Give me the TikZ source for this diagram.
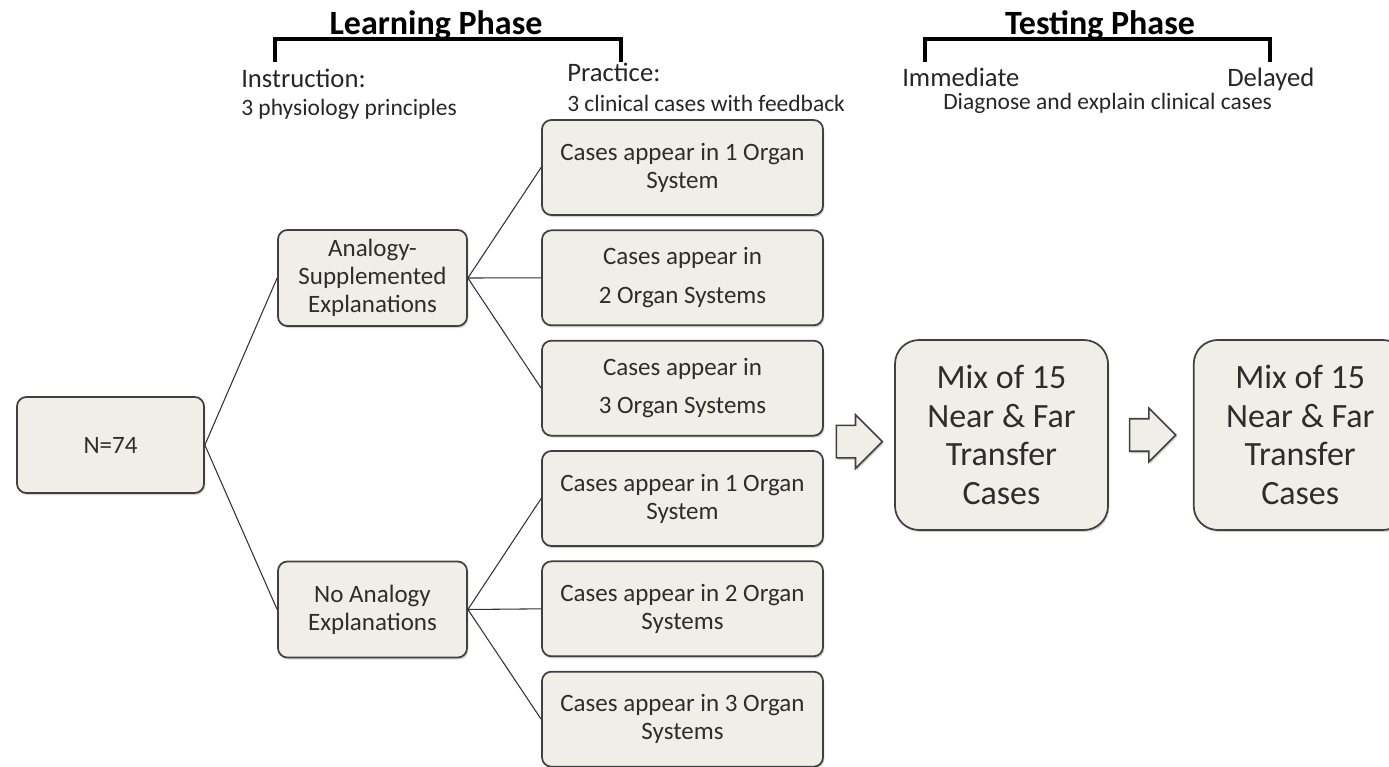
\documentclass[tikz,border=0pt]{standalone}
\usepackage{fontspec}
\setmainfont{Carlito}
\usetikzlibrary{shapes,arrows,positioning,shadows}
\definecolor{boxfill}{RGB}{240,238,230}
\definecolor{boxtext}{RGB}{45,45,45}

\begin{document}
\begin{tikzpicture}[
    x=0.75pt, y=-0.75pt,
    node distance=10.2pt and 15pt,
    block/.style={draw=black!75, fill=boxfill, rectangle, line width=1.3pt, rounded corners=7pt, align=center, text=boxtext, inner sep=2pt, font=\fontsize{18.75}{21}\selectfont, drop shadow={shadow xshift=1pt, shadow yshift=-1.5pt, opacity=0.35}},
    armbox/.style={block, minimum width=141.75pt, minimum height=72pt},
    casebox/.style={block, minimum width=210.75pt, minimum height=71.25pt},
    mixbox/.style={block, minimum width=159.75pt, minimum height=142.5pt, rounded corners=18pt, font=\fontsize{25.5}{29}\selectfont},
    hollow/.style={single arrow, draw=black!75, fill=boxfill, line width=1.2pt, minimum height=34.5pt, single arrow head extend=7.9pt, inner xsep=1pt, inner ysep=11.6pt, drop shadow={shadow xshift=1pt, shadow yshift=-1.5pt, opacity=0.35}},
    link/.style={draw=black!80, line width=0.8pt},
    bracket/.style={line width=2.5pt, line join=miter},
    phasetitle/.style={font=\bfseries\fontsize{25.5}{30}\selectfont, anchor=base, inner sep=0pt},
    toptext/.style={font=\fontsize{20}{24}\selectfont, anchor=base west, inner sep=0pt, text=black!85},
    subtext/.style={font=\fontsize{17.6}{21}\selectfont, anchor=base west, inner sep=0pt, text=black!85}
]
\clip (0,0) rectangle (1389,767);

% Participants
\node[block, minimum width=140.25pt, minimum height=72pt] (sample) at (110.5,445) {N=74};

% Explanation conditions
\node[armbox] (analogy) at (372.5,278) {Analogy-\\Supplemented\\Explanations};
\node[armbox] (noanalogy) at (372.5,609.5) {No Analogy\\Explanations};

% Practice cases
\node[casebox] (case1) at (682.5,167.5) {Cases appear in 1 Organ\\System};
\node[casebox, below=of case1] (case2) {Cases appear in\\[8pt]2 Organ Systems};
\node[casebox, below=of case2] (case3) {Cases appear in\\[8pt]3 Organ Systems};
\node[casebox, below=of case3] (case4) {Cases appear in 1 Organ\\System};
\node[casebox, below=of case4] (case5) {Cases appear in 2 Organ\\Systems};
\node[casebox, below=of case5] (case6) {Cases appear in 3 Organ\\Systems};

% Tests
\node[mixbox] (immediate) at (1001.5,435) {Mix of 15\\Near \& Far\\Transfer\\Cases};
\node[mixbox, right=63pt of immediate] (delayed) {Mix of 15\\Near \& Far\\Transfer\\Cases};
\node[hollow, left=8pt of immediate, yshift=-5pt] (arrow1) {};
\node[hollow, right=15pt of immediate] (arrow2) {};

% Lines
\draw[link] (sample.east) -- (analogy.west);
\draw[link] (sample.east) -- (noanalogy.west);
\foreach \c in {case1,case2,case3}
    \draw[link] (analogy.east) -- (\c.west);
\foreach \c in {case4,case5,case6}
    \draw[link] (noanalogy.east) -- (\c.west);

% Learning phase header
\node[phasetitle] (learning) at (436,35) {Learning Phase};
\draw[bracket] (275,62) |- (621,39) -- (621,62);
\node[toptext] (instruction) at (241,88) {Instruction:};
\node[subtext] (principles) at (241,115) {3 physiology principles};
\node[toptext] (practice) at (567,82) {Practice:};
\node[subtext] (feedback) at (567,112) {3 clinical cases with feedback};

% Testing phase header
\node[phasetitle] (testing) at (1100,35) {Testing Phase};
\draw[bracket] (925,62) |- (1270,39) -- (1270,62);
\node[toptext] (immtext) at (902,87) {Immediate};
\node[toptext] (deltext) at (1227,87) {Delayed};
\node[subtext] (diagnose) at (943,109) {Diagnose and explain clinical cases};
\end{tikzpicture}
\end{document}
